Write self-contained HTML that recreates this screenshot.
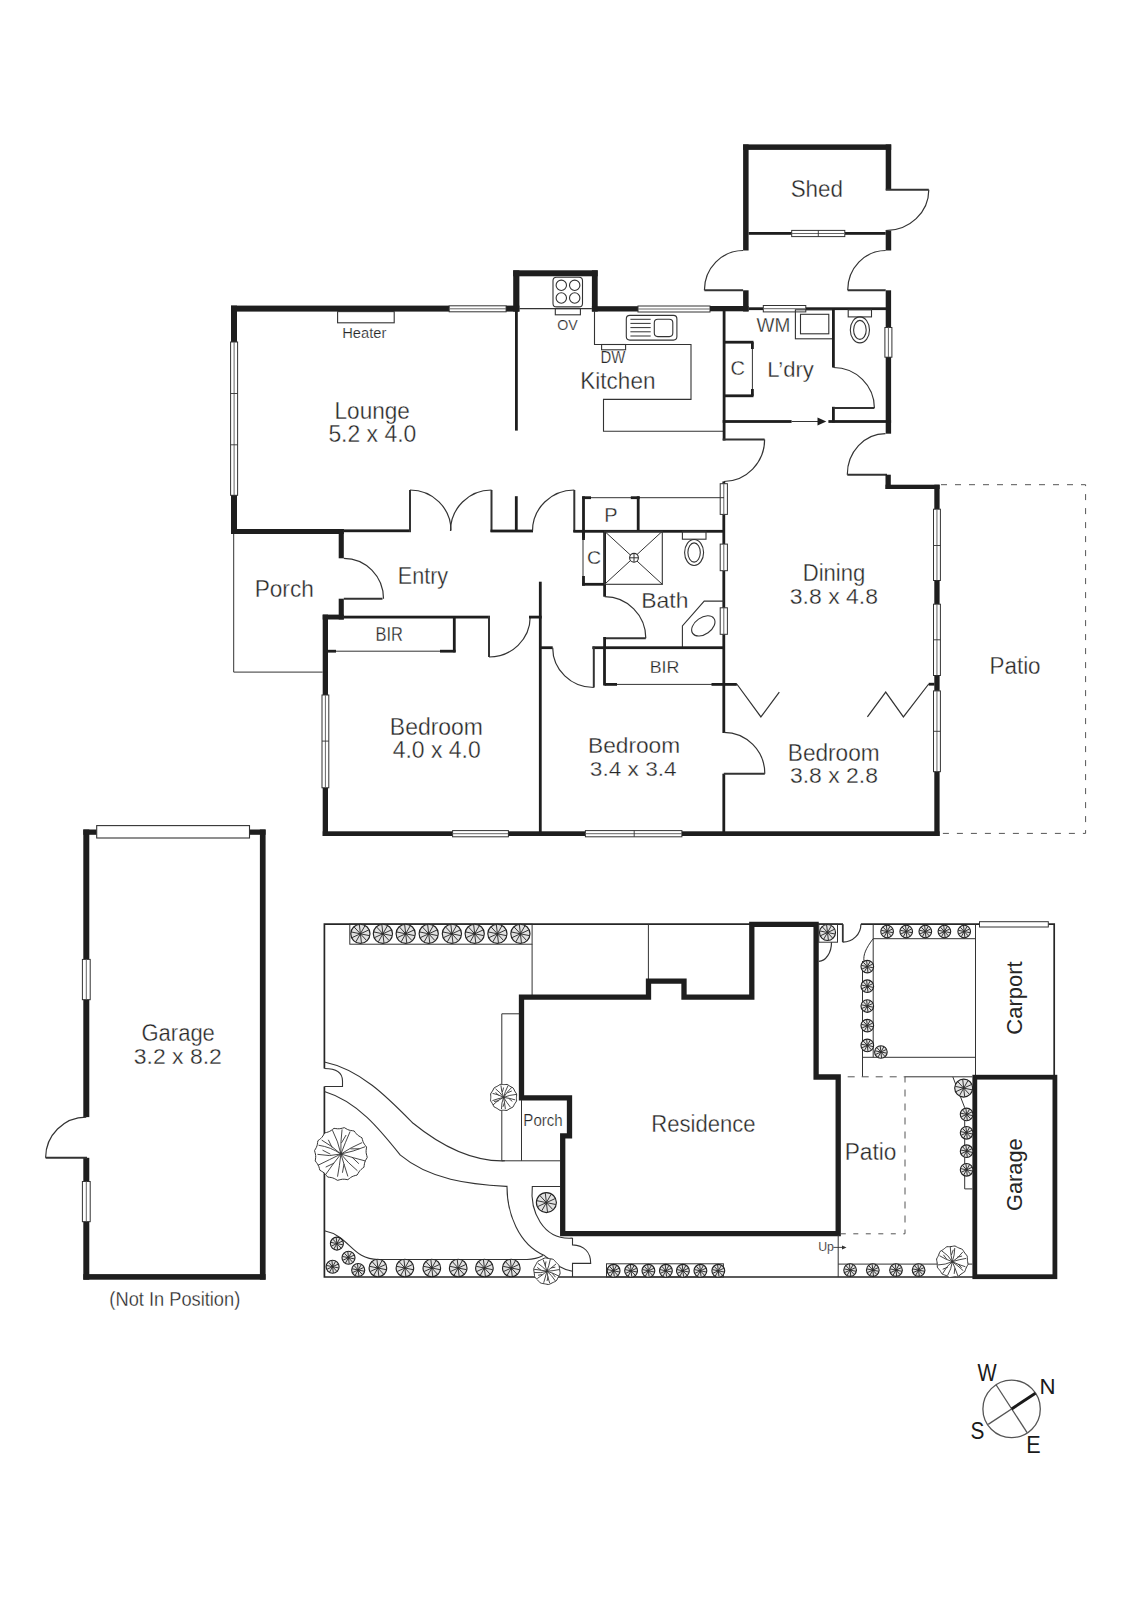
<!DOCTYPE html>
<html><head><meta charset="utf-8"><title>Floor plan</title>
<style>
html,body{margin:0;padding:0;background:#fff;}
svg{display:block;}
text{font-family:"Liberation Sans",sans-serif;}
</style></head><body>
<svg width="1131" height="1600" viewBox="0 0 1131 1600">
<rect width="1131" height="1600" fill="#fff"/>
<rect x="743.10" y="144.40" width="5.50" height="106.10" fill="#1e1e1e"/>
<rect x="743.10" y="144.40" width="148.10" height="5.50" fill="#1e1e1e"/>
<rect x="885.70" y="144.40" width="5.50" height="45.30" fill="#1e1e1e"/>
<rect x="885.70" y="230.60" width="5.50" height="19.90" fill="#1e1e1e"/>
<rect x="748.60" y="232.00" width="137.10" height="2.80" fill="#1e1e1e"/>
<rect x="791.70" y="230.40" width="53.10" height="6.20" fill="#fff" stroke="#333333" stroke-width="1"/>
<line x1="791.70" y1="233.50" x2="844.80" y2="233.50" stroke="#666" stroke-width="1.0" stroke-linecap="butt"/>
<line x1="818.30" y1="230.40" x2="818.30" y2="236.60" stroke="#333333" stroke-width="0.9" stroke-linecap="butt"/>
<line x1="885.70" y1="189.70" x2="928.80" y2="189.70" stroke="#333333" stroke-width="2.0" stroke-linecap="butt"/>
<path d="M928.80,189.70 A43.10,40.90 0 0 1 885.70,230.60" stroke="#333333" stroke-width="1.2" fill="none" />
<line x1="847.70" y1="290.30" x2="885.70" y2="290.30" stroke="#333333" stroke-width="2.0" stroke-linecap="butt"/>
<path d="M885.70,250.50 A38.00,39.80 0 0 0 847.70,290.30" stroke="#333333" stroke-width="1.2" fill="none" />
<line x1="704.40" y1="290.30" x2="743.10" y2="290.30" stroke="#333333" stroke-width="2.0" stroke-linecap="butt"/>
<path d="M743.10,250.50 A38.70,39.80 0 0 0 704.40,290.30" stroke="#333333" stroke-width="1.2" fill="none" />
<rect x="743.10" y="290.30" width="5.50" height="21.20" fill="#1e1e1e"/>
<rect x="885.70" y="290.30" width="5.40" height="37.20" fill="#1e1e1e"/>
<rect x="884.90" y="327.50" width="7.00" height="29.70" fill="#fff" stroke="#333333" stroke-width="1"/>
<line x1="888.40" y1="327.50" x2="888.40" y2="357.20" stroke="#666" stroke-width="1.0" stroke-linecap="butt"/>
<rect x="885.70" y="357.20" width="5.40" height="76.50" fill="#1e1e1e"/>
<rect x="231.00" y="305.60" width="218.20" height="6.00" fill="#1e1e1e"/>
<rect x="449.20" y="305.80" width="56.90" height="6.00" fill="#fff" stroke="#333333" stroke-width="1"/>
<line x1="449.20" y1="308.80" x2="506.10" y2="308.80" stroke="#666" stroke-width="1.0" stroke-linecap="butt"/>
<rect x="506.10" y="305.60" width="13.30" height="6.00" fill="#1e1e1e"/>
<rect x="513.20" y="270.30" width="6.20" height="41.30" fill="#1e1e1e"/>
<rect x="513.20" y="270.30" width="84.50" height="6.00" fill="#1e1e1e"/>
<rect x="591.90" y="270.30" width="5.80" height="41.30" fill="#1e1e1e"/>
<rect x="591.90" y="306.20" width="46.10" height="5.30" fill="#1e1e1e"/>
<rect x="638.00" y="306.00" width="72.00" height="6.00" fill="#fff" stroke="#333333" stroke-width="1"/>
<line x1="638.00" y1="309.00" x2="710.00" y2="309.00" stroke="#666" stroke-width="1.0" stroke-linecap="butt"/>
<rect x="710.00" y="306.00" width="38.60" height="5.30" fill="#1e1e1e"/>
<rect x="748.60" y="307.30" width="14.70" height="2.80" fill="#1e1e1e"/>
<rect x="763.30" y="305.50" width="42.50" height="6.40" fill="#fff" stroke="#333333" stroke-width="1"/>
<line x1="763.30" y1="308.70" x2="805.80" y2="308.70" stroke="#666" stroke-width="1.0" stroke-linecap="butt"/>
<rect x="805.80" y="307.30" width="82.20" height="2.80" fill="#1e1e1e"/>
<rect x="231.00" y="305.60" width="6.00" height="36.40" fill="#1e1e1e"/>
<rect x="230.60" y="342.00" width="7.00" height="153.30" fill="#fff" stroke="#333333" stroke-width="1"/>
<line x1="234.10" y1="342.00" x2="234.10" y2="495.30" stroke="#666" stroke-width="1.0" stroke-linecap="butt"/>
<line x1="230.60" y1="393.50" x2="237.60" y2="393.50" stroke="#333333" stroke-width="0.9" stroke-linecap="butt"/>
<line x1="230.60" y1="444.80" x2="237.60" y2="444.80" stroke="#333333" stroke-width="0.9" stroke-linecap="butt"/>
<rect x="231.00" y="495.30" width="6.00" height="38.70" fill="#1e1e1e"/>
<rect x="231.00" y="529.00" width="112.80" height="5.00" fill="#1e1e1e"/>
<rect x="338.70" y="529.00" width="5.10" height="29.30" fill="#1e1e1e"/>
<rect x="338.70" y="598.70" width="5.10" height="20.80" fill="#1e1e1e"/>
<rect x="322.70" y="614.60" width="21.10" height="4.90" fill="#1e1e1e"/>
<rect x="337.6" y="311.6" width="56.6" height="11.2" fill="none" stroke="#333333" stroke-width="1.1"/>
<text transform="translate(342.19,337.80) scale(1.0195,1)" font-size="14.46" fill="#262626" stroke="#fff" stroke-width="0.210">Heater</text>
<rect x="343.80" y="529.40" width="67.20" height="2.80" fill="#1e1e1e"/>
<line x1="410.00" y1="490.00" x2="410.00" y2="532.00" stroke="#333333" stroke-width="2.0" stroke-linecap="butt"/>
<path d="M410.00,490.00 A41.00,40.60 0 0 1 451.00,530.60" stroke="#333333" stroke-width="1.2" fill="none" />
<path d="M491.50,490.00 A41.00,41.00 0 0 0 450.50,531.00" stroke="#333333" stroke-width="1.2" fill="none" />
<line x1="491.50" y1="490.00" x2="491.50" y2="532.00" stroke="#333333" stroke-width="2.0" stroke-linecap="butt"/>
<rect x="490.50" y="529.60" width="42.50" height="2.80" fill="#1e1e1e"/>
<rect x="514.90" y="496.20" width="2.80" height="34.80" fill="#1e1e1e"/>
<path d="M574.30,490.00 A41.80,41.00 0 0 0 532.50,531.00" stroke="#333333" stroke-width="1.2" fill="none" />
<line x1="574.30" y1="490.00" x2="574.30" y2="532.00" stroke="#333333" stroke-width="2.0" stroke-linecap="butt"/>
<rect x="573.30" y="529.90" width="151.20" height="2.80" fill="#1e1e1e"/>
<rect x="515.00" y="311.00" width="2.80" height="119.60" fill="#1e1e1e"/>
<rect x="553" y="277.3" width="29.5" height="29.6" rx="3.5" fill="none" stroke="#333333" stroke-width="1.1"/>
<circle cx="561.3" cy="285.3" r="5.2" fill="none" stroke="#333333" stroke-width="1.1"/>
<circle cx="574.7" cy="285.3" r="5.2" fill="none" stroke="#333333" stroke-width="1.1"/>
<circle cx="561.3" cy="298" r="5.2" fill="none" stroke="#333333" stroke-width="1.1"/>
<circle cx="574.7" cy="298" r="5.2" fill="none" stroke="#333333" stroke-width="1.1"/>
<line x1="519.40" y1="308.60" x2="591.90" y2="308.60" stroke="#333333" stroke-width="1.1" stroke-linecap="butt"/>
<rect x="555.3" y="308.6" width="25.1" height="6.2" fill="none" stroke="#333333" stroke-width="1.1"/>
<text transform="translate(557.23,330.40) scale(0.9269,1)" font-size="15.33" fill="#262626" stroke="#fff" stroke-width="0.223">OV</text>
<path d="M594.5,311 V344.5 H691 V399.4 H603.5 V431.2 H724" stroke="#333333" stroke-width="1.1" fill="none" />
<rect x="626.3" y="315.4" width="50.6" height="24.7" rx="3.5" fill="none" stroke="#333333" stroke-width="1.1"/>
<rect x="654.3" y="319.3" width="18.5" height="17.3" rx="3.5" fill="none" stroke="#333333" stroke-width="1.1"/>
<line x1="630.40" y1="319.30" x2="650.70" y2="319.30" stroke="#333333" stroke-width="1.0" stroke-linecap="butt"/>
<line x1="630.40" y1="323.40" x2="650.70" y2="323.40" stroke="#333333" stroke-width="1.0" stroke-linecap="butt"/>
<line x1="630.40" y1="327.60" x2="650.70" y2="327.60" stroke="#333333" stroke-width="1.0" stroke-linecap="butt"/>
<line x1="630.40" y1="331.80" x2="650.70" y2="331.80" stroke="#333333" stroke-width="1.0" stroke-linecap="butt"/>
<line x1="630.40" y1="336.00" x2="650.70" y2="336.00" stroke="#333333" stroke-width="1.0" stroke-linecap="butt"/>
<rect x="601.6" y="344.5" width="24" height="5.3" fill="none" stroke="#333333" stroke-width="1.1"/>
<text transform="translate(600.48,363.40) scale(0.9213,1)" font-size="16.21" fill="#262626" stroke="#fff" stroke-width="0.236">DW</text>
<text transform="translate(580.35,388.60) scale(0.9167,1)" font-size="24.56" fill="#262626" stroke="#fff" stroke-width="0.357">Kitchen</text>
<rect x="722.70" y="311.00" width="2.80" height="129.50" fill="#1e1e1e"/>
<rect x="724.00" y="340.80" width="29.50" height="2.80" fill="#1e1e1e"/>
<rect x="724.00" y="394.40" width="29.50" height="2.80" fill="#1e1e1e"/>
<line x1="752.40" y1="342.20" x2="752.40" y2="395.80" stroke="#333333" stroke-width="1.0" stroke-linecap="butt"/>
<rect x="751.00" y="342.20" width="2.80" height="6.80" fill="#1e1e1e"/>
<rect x="751.00" y="389.00" width="2.80" height="6.80" fill="#1e1e1e"/>
<text transform="translate(730.58,375.10) scale(0.9855,1)" font-size="20.35" fill="#262626" stroke="#fff" stroke-width="0.296">C</text>
<text transform="translate(756.62,331.70) scale(0.9823,1)" font-size="19.33" fill="#262626" stroke="#fff" stroke-width="0.281">WM</text>
<text transform="translate(767.19,376.60) scale(0.9614,1)" font-size="22.97" fill="#262626" stroke="#fff" stroke-width="0.334">L’dry</text>
<rect x="795.4" y="309.8" width="37.2" height="29" fill="none" stroke="#333333" stroke-width="1.1"/>
<rect x="800.5" y="314.3" width="28.3" height="19.5" fill="none" stroke="#333333" stroke-width="1.1"/>
<rect x="832.00" y="308.00" width="2.80" height="59.50" fill="#1e1e1e"/>
<rect x="832.00" y="406.80" width="2.80" height="15.70" fill="#1e1e1e"/>
<line x1="833.40" y1="408.10" x2="874.40" y2="408.10" stroke="#333333" stroke-width="2.0" stroke-linecap="butt"/>
<path d="M833.40,367.50 A41.00,40.60 0 0 1 874.40,408.10" stroke="#333333" stroke-width="1.2" fill="none" />
<rect x="848.2" y="309.8" width="23.3" height="7.1" fill="none" stroke="#333333" stroke-width="1.1"/>
<ellipse cx="859.9" cy="329.9" rx="9.6" ry="13" fill="none" stroke="#333333" stroke-width="1.1"/>
<ellipse cx="859.9" cy="329.9" rx="6.3" ry="9.5" fill="none" stroke="#333333" stroke-width="1.1"/>
<rect x="722.70" y="420.10" width="68.90" height="2.80" fill="#1e1e1e"/>
<rect x="828.40" y="420.10" width="62.70" height="2.80" fill="#1e1e1e"/>
<line x1="791.60" y1="421.50" x2="819.00" y2="421.50" stroke="#333333" stroke-width="1.0" stroke-linecap="butt"/>
<polygon points="817.5,417.6 826.3,421.5 817.5,425.4" fill="#1e1e1e"/>
<line x1="722.70" y1="439.50" x2="764.60" y2="439.50" stroke="#333333" stroke-width="2.0" stroke-linecap="butt"/>
<path d="M764.60,439.50 A40.80,42.00 0 0 1 723.80,481.50" stroke="#333333" stroke-width="1.2" fill="none" />
<path d="M885.50,433.70 A38.20,41.00 0 0 0 847.30,474.70" stroke="#333333" stroke-width="1.2" fill="none" />
<line x1="847.30" y1="474.70" x2="887.00" y2="474.70" stroke="#333333" stroke-width="2.0" stroke-linecap="butt"/>
<rect x="885.50" y="474.70" width="5.30" height="14.30" fill="#1e1e1e"/>
<rect x="885.50" y="484.70" width="54.10" height="4.30" fill="#1e1e1e"/>
<rect x="934.30" y="484.70" width="5.30" height="24.50" fill="#1e1e1e"/>
<rect x="933.50" y="509.20" width="6.90" height="71.30" fill="#fff" stroke="#333333" stroke-width="1"/>
<line x1="936.95" y1="509.20" x2="936.95" y2="580.50" stroke="#666" stroke-width="1.0" stroke-linecap="butt"/>
<line x1="933.50" y1="545.50" x2="940.40" y2="545.50" stroke="#333333" stroke-width="0.9" stroke-linecap="butt"/>
<rect x="934.30" y="580.50" width="5.30" height="23.70" fill="#1e1e1e"/>
<rect x="933.50" y="604.20" width="6.90" height="71.30" fill="#fff" stroke="#333333" stroke-width="1"/>
<line x1="936.95" y1="604.20" x2="936.95" y2="675.50" stroke="#666" stroke-width="1.0" stroke-linecap="butt"/>
<line x1="933.50" y1="639.80" x2="940.40" y2="639.80" stroke="#333333" stroke-width="0.9" stroke-linecap="butt"/>
<rect x="934.30" y="675.50" width="5.30" height="15.40" fill="#1e1e1e"/>
<rect x="933.50" y="690.90" width="6.90" height="80.80" fill="#fff" stroke="#333333" stroke-width="1"/>
<line x1="936.95" y1="690.90" x2="936.95" y2="771.70" stroke="#666" stroke-width="1.0" stroke-linecap="butt"/>
<line x1="933.50" y1="731.30" x2="940.40" y2="731.30" stroke="#333333" stroke-width="0.9" stroke-linecap="butt"/>
<rect x="934.30" y="771.70" width="5.30" height="64.30" fill="#1e1e1e"/>
<path d="M941,484.7 H1085.6 V833.4 H941" stroke="#555" stroke-width="1.0" fill="none" stroke-dasharray="6,8"/>
<text transform="translate(989.46,673.80) scale(0.9196,1)" font-size="24.42" fill="#262626" stroke="#fff" stroke-width="0.355">Patio</text>
<rect x="722.40" y="481.50" width="2.80" height="251.50" fill="#1e1e1e"/>
<rect x="720.20" y="483.70" width="7.20" height="30.70" fill="#fff" stroke="#333333" stroke-width="1"/>
<line x1="723.80" y1="483.70" x2="723.80" y2="514.40" stroke="#666" stroke-width="1.0" stroke-linecap="butt"/>
<rect x="720.20" y="544.10" width="7.20" height="26.60" fill="#fff" stroke="#333333" stroke-width="1"/>
<line x1="723.80" y1="544.10" x2="723.80" y2="570.70" stroke="#666" stroke-width="1.0" stroke-linecap="butt"/>
<rect x="720.20" y="607.80" width="7.20" height="26.50" fill="#fff" stroke="#333333" stroke-width="1"/>
<line x1="723.80" y1="607.80" x2="723.80" y2="634.30" stroke="#666" stroke-width="1.0" stroke-linecap="butt"/>
<rect x="722.40" y="773.70" width="2.80" height="59.30" fill="#1e1e1e"/>
<line x1="723.80" y1="773.70" x2="764.80" y2="773.70" stroke="#333333" stroke-width="2.0" stroke-linecap="butt"/>
<path d="M723.80,732.30 A41.00,41.40 0 0 1 764.80,773.70" stroke="#333333" stroke-width="1.2" fill="none" />
<text transform="translate(802.69,581.30) scale(0.9560,1)" font-size="23.11" fill="#262626" stroke="#fff" stroke-width="0.336">Dining</text>
<text transform="translate(789.82,603.60) scale(1.0203,1)" font-size="22.53" fill="#262626" stroke="#fff" stroke-width="0.328">3.8 x 4.8</text>
<path d="M736.8,684 L760.9,716.9 L779.3,692.1" stroke="#333333" stroke-width="1.2" fill="none" />
<path d="M928.7,684 L903.4,716.9 L885.7,692.1 L867.4,716.9" stroke="#333333" stroke-width="1.2" fill="none" />
<rect x="928.70" y="682.80" width="5.80" height="2.80" fill="#1e1e1e"/>
<rect x="322.70" y="831.30" width="129.90" height="4.70" fill="#1e1e1e"/>
<rect x="452.60" y="830.60" width="55.80" height="6.20" fill="#fff" stroke="#333333" stroke-width="1"/>
<line x1="452.60" y1="833.70" x2="508.40" y2="833.70" stroke="#666" stroke-width="1.0" stroke-linecap="butt"/>
<rect x="508.40" y="831.30" width="77.00" height="4.70" fill="#1e1e1e"/>
<rect x="585.40" y="830.60" width="96.50" height="6.20" fill="#fff" stroke="#333333" stroke-width="1"/>
<line x1="585.40" y1="833.70" x2="681.90" y2="833.70" stroke="#666" stroke-width="1.0" stroke-linecap="butt"/>
<line x1="634.20" y1="830.60" x2="634.20" y2="836.80" stroke="#333333" stroke-width="0.9" stroke-linecap="butt"/>
<rect x="681.90" y="831.30" width="257.70" height="4.70" fill="#1e1e1e"/>
<rect x="322.70" y="614.60" width="5.30" height="80.40" fill="#1e1e1e"/>
<rect x="322.00" y="695.00" width="6.80" height="92.80" fill="#fff" stroke="#333333" stroke-width="1"/>
<line x1="325.40" y1="695.00" x2="325.40" y2="787.80" stroke="#666" stroke-width="1.0" stroke-linecap="butt"/>
<line x1="322.00" y1="741.10" x2="328.80" y2="741.10" stroke="#333333" stroke-width="0.9" stroke-linecap="butt"/>
<rect x="322.70" y="787.80" width="5.30" height="48.20" fill="#1e1e1e"/>
<path d="M233.7,534 V672.1 H322.7" stroke="#333333" stroke-width="1.0" fill="none" />
<text transform="translate(254.64,597.40) scale(0.9455,1)" font-size="23.98" fill="#262626" stroke="#fff" stroke-width="0.349">Porch</text>
<text transform="translate(397.73,583.70) scale(0.9007,1)" font-size="23.98" fill="#262626" stroke="#fff" stroke-width="0.349">Entry</text>
<line x1="343.80" y1="598.70" x2="382.50" y2="598.70" stroke="#333333" stroke-width="2.0" stroke-linecap="butt"/>
<path d="M343.80,558.30 A39.70,40.40 0 0 1 383.50,598.70" stroke="#333333" stroke-width="1.2" fill="none" />
<rect x="343.80" y="615.70" width="146.20" height="2.80" fill="#1e1e1e"/>
<rect x="452.90" y="617.00" width="2.80" height="35.30" fill="#1e1e1e"/>
<line x1="328.00" y1="651.20" x2="454.30" y2="651.20" stroke="#333333" stroke-width="1.0" stroke-linecap="butt"/>
<rect x="328.00" y="649.80" width="8.00" height="2.80" fill="#1e1e1e"/>
<rect x="440.00" y="649.80" width="15.60" height="2.80" fill="#1e1e1e"/>
<text transform="translate(375.45,641.20) scale(0.8171,1)" font-size="20.20" fill="#262626" stroke="#fff" stroke-width="0.294">BIR</text>
<line x1="489.00" y1="616.00" x2="489.00" y2="657.00" stroke="#333333" stroke-width="2.0" stroke-linecap="butt"/>
<path d="M530.20,617.10 A41.20,40.00 0 0 1 489.00,657.00" stroke="#333333" stroke-width="1.2" fill="none" />
<rect x="529.00" y="615.70" width="12.70" height="2.80" fill="#1e1e1e"/>
<rect x="538.90" y="581.70" width="2.80" height="251.30" fill="#1e1e1e"/>
<text transform="translate(389.82,734.70) scale(0.9577,1)" font-size="23.98" fill="#262626" stroke="#fff" stroke-width="0.349">Bedroom</text>
<text transform="translate(392.67,757.50) scale(0.9686,1)" font-size="23.69" fill="#262626" stroke="#fff" stroke-width="0.345">4.0 x 4.0</text>
<line x1="582.20" y1="497.70" x2="724.00" y2="497.70" stroke="#333333" stroke-width="1.0" stroke-linecap="butt"/>
<rect x="582.20" y="496.30" width="8.80" height="2.80" fill="#1e1e1e"/>
<rect x="630.80" y="496.30" width="8.80" height="2.80" fill="#1e1e1e"/>
<rect x="582.10" y="496.30" width="2.80" height="42.10" fill="#1e1e1e"/>
<rect x="636.80" y="496.30" width="2.80" height="35.00" fill="#1e1e1e"/>
<text transform="translate(604.37,521.60) scale(0.9858,1)" font-size="20.20" fill="#262626" stroke="#fff" stroke-width="0.294">P</text>
<line x1="583.00" y1="531.30" x2="583.00" y2="584.30" stroke="#333333" stroke-width="1.0" stroke-linecap="butt"/>
<rect x="582.10" y="531.30" width="2.80" height="8.70" fill="#1e1e1e"/>
<rect x="582.10" y="576.00" width="2.80" height="9.70" fill="#1e1e1e"/>
<rect x="582.10" y="582.90" width="23.90" height="2.80" fill="#1e1e1e"/>
<rect x="603.20" y="531.30" width="2.80" height="65.40" fill="#1e1e1e"/>
<text transform="translate(587.01,564.00) scale(1.0362,1)" font-size="18.90" fill="#262626" stroke="#fff" stroke-width="0.275">C</text>
<rect x="604.6" y="531.3" width="57.7" height="53" fill="none" stroke="#333333" stroke-width="1.1"/>
<line x1="604.60" y1="531.30" x2="662.30" y2="584.30" stroke="#333333" stroke-width="1.0" stroke-linecap="butt"/>
<line x1="662.30" y1="531.30" x2="604.60" y2="584.30" stroke="#333333" stroke-width="1.0" stroke-linecap="butt"/>
<circle cx="634" cy="557.8" r="4.4" fill="#fff" stroke="#333333" stroke-width="1.1"/>
<line x1="629.60" y1="557.80" x2="638.40" y2="557.80" stroke="#333333" stroke-width="1.0" stroke-linecap="butt"/>
<line x1="634.00" y1="553.40" x2="634.00" y2="562.20" stroke="#333333" stroke-width="1.0" stroke-linecap="butt"/>
<rect x="682.4" y="531.3" width="23.6" height="7.9" fill="none" stroke="#333333" stroke-width="1.1"/>
<ellipse cx="694.1" cy="552.5" rx="9.5" ry="13" fill="none" stroke="#333333" stroke-width="1.1"/>
<ellipse cx="694.1" cy="552.5" rx="6.2" ry="9.6" fill="none" stroke="#333333" stroke-width="1.1"/>
<path d="M724,601.1 H704.2 L682.4,625.9 V647.1" stroke="#333333" stroke-width="1.1" fill="none" />
<ellipse cx="703.3" cy="625.9" rx="13" ry="8.3" transform="rotate(-35 703.3 625.9)" fill="none" stroke="#333333" stroke-width="1.1"/>
<text transform="translate(641.32,608.20) scale(1.0659,1)" font-size="21.51" fill="#262626" stroke="#fff" stroke-width="0.313">Bath</text>
<path d="M604.60,596.70 A41.20,41.60 0 0 1 645.80,638.30" stroke="#333333" stroke-width="1.2" fill="none" />
<line x1="603.60" y1="638.30" x2="645.80" y2="638.30" stroke="#333333" stroke-width="2.0" stroke-linecap="butt"/>
<rect x="603.20" y="637.00" width="2.80" height="11.50" fill="#1e1e1e"/>
<rect x="592.30" y="646.30" width="132.70" height="2.80" fill="#1e1e1e"/>
<rect x="603.10" y="647.00" width="2.80" height="38.50" fill="#1e1e1e"/>
<line x1="604.50" y1="684.40" x2="736.80" y2="684.40" stroke="#333333" stroke-width="1.0" stroke-linecap="butt"/>
<rect x="604.50" y="683.00" width="12.50" height="2.80" fill="#1e1e1e"/>
<rect x="711.50" y="683.00" width="25.30" height="2.80" fill="#1e1e1e"/>
<text transform="translate(649.64,673.10) scale(1.0253,1)" font-size="17.37" fill="#262626" stroke="#fff" stroke-width="0.253">BIR</text>
<rect x="540.30" y="646.30" width="12.40" height="2.80" fill="#1e1e1e"/>
<path d="M552.70,647.70 A41.10,39.80 0 0 0 593.80,687.50" stroke="#333333" stroke-width="1.2" fill="none" />
<line x1="593.80" y1="646.50" x2="593.80" y2="687.50" stroke="#333333" stroke-width="2.0" stroke-linecap="butt"/>
<text transform="translate(588.04,752.50) scale(1.0281,1)" font-size="22.09" fill="#262626" stroke="#fff" stroke-width="0.321">Bedroom</text>
<text transform="translate(589.84,775.60) scale(1.0814,1)" font-size="20.93" fill="#262626" stroke="#fff" stroke-width="0.304">3.4 x 3.4</text>
<text transform="translate(787.84,760.60) scale(0.9613,1)" font-size="23.55" fill="#262626" stroke="#fff" stroke-width="0.342">Bedroom</text>
<text transform="translate(789.93,782.90) scale(1.0126,1)" font-size="22.67" fill="#262626" stroke="#fff" stroke-width="0.330">3.8 x 2.8</text>
<text transform="translate(334.55,419.20) scale(0.9591,1)" font-size="23.55" fill="#262626" stroke="#fff" stroke-width="0.342">Lounge</text>
<text transform="translate(328.38,441.80) scale(0.9733,1)" font-size="23.55" fill="#262626" stroke="#fff" stroke-width="0.342">5.2 x 4.0</text>
<text transform="translate(790.68,196.80) scale(0.9274,1)" font-size="24.13" fill="#262626" stroke="#fff" stroke-width="0.351">Shed</text>
<rect x="83.30" y="829.50" width="6.00" height="129.90" fill="#1e1e1e"/>
<rect x="82.40" y="959.40" width="7.80" height="40.30" fill="#fff" stroke="#333333" stroke-width="1"/>
<line x1="86.30" y1="959.40" x2="86.30" y2="999.70" stroke="#666" stroke-width="1.0" stroke-linecap="butt"/>
<rect x="83.30" y="999.70" width="6.00" height="117.40" fill="#1e1e1e"/>
<rect x="83.30" y="1157.80" width="6.00" height="23.70" fill="#1e1e1e"/>
<rect x="82.40" y="1181.50" width="7.80" height="40.20" fill="#fff" stroke="#333333" stroke-width="1"/>
<line x1="86.30" y1="1181.50" x2="86.30" y2="1221.70" stroke="#666" stroke-width="1.0" stroke-linecap="butt"/>
<rect x="83.30" y="1221.70" width="6.00" height="58.00" fill="#1e1e1e"/>
<rect x="83.30" y="829.50" width="13.40" height="5.30" fill="#1e1e1e"/>
<rect x="249.50" y="829.50" width="16.10" height="5.30" fill="#1e1e1e"/>
<rect x="96.7" y="825.6" width="152.8" height="12.4" fill="#fff" stroke="#333333" stroke-width="1.1"/>
<rect x="259.90" y="829.50" width="5.70" height="450.20" fill="#1e1e1e"/>
<rect x="83.30" y="1274.10" width="182.30" height="5.60" fill="#1e1e1e"/>
<line x1="45.60" y1="1157.80" x2="87.00" y2="1157.80" stroke="#333333" stroke-width="2.0" stroke-linecap="butt"/>
<path d="M86.30,1117.10 A40.70,40.70 0 0 0 45.60,1157.80" stroke="#333333" stroke-width="1.2" fill="none" />
<text transform="translate(141.49,1041.00) scale(0.9119,1)" font-size="24.13" fill="#262626" stroke="#fff" stroke-width="0.351">Garage</text>
<text transform="translate(133.72,1064.00) scale(1.0144,1)" font-size="22.67" fill="#262626" stroke="#fff" stroke-width="0.330">3.2 x 8.2</text>
<text transform="translate(109.37,1305.60) scale(0.8728,1)" font-size="20.93" fill="#262626" stroke="#fff" stroke-width="0.304">(Not In Position)</text>
<path d="M843,924.2 H324.4 V1068.5" stroke="#262626" stroke-width="1.7" fill="none" />
<path d="M324.4,1086.5 V1277 H974" stroke="#262626" stroke-width="1.7" fill="none" />
<path d="M860.9,924.2 H979.5" stroke="#262626" stroke-width="1.7" fill="none" />
<path d="M1048.3,924.2 H1054.2 V1075" stroke="#262626" stroke-width="1.7" fill="none" />
<rect x="979.5" y="921.7" width="68.8" height="5.3" fill="#fff" stroke="#333333" stroke-width="1"/>
<rect x="349.8" y="924.2" width="182.3" height="20" fill="none" stroke="#333333" stroke-width="1"/>
<circle cx="360.40" cy="933.80" r="9.60" fill="#e2e2e2" stroke="#222" stroke-width="1.15"/>
<path d="M360.40,933.80 L369.34,935.61 M360.40,933.80 L366.57,940.52 M360.40,933.80 L361.44,942.86 M360.40,933.80 L355.91,941.74 M360.40,933.80 L352.10,937.59 M360.40,933.80 L351.46,931.99 M360.40,933.80 L354.23,927.08 M360.40,933.80 L359.36,924.74 M360.40,933.80 L364.89,925.86 M360.40,933.80 L368.70,930.01 " stroke="#2a2a2a" stroke-width="0.95" fill="none" />
<circle cx="382.90" cy="933.80" r="9.60" fill="#e2e2e2" stroke="#222" stroke-width="1.15"/>
<path d="M382.90,933.80 L391.84,935.61 M382.90,933.80 L389.07,940.52 M382.90,933.80 L383.94,942.86 M382.90,933.80 L378.41,941.74 M382.90,933.80 L374.60,937.59 M382.90,933.80 L373.96,931.99 M382.90,933.80 L376.73,927.08 M382.90,933.80 L381.86,924.74 M382.90,933.80 L387.39,925.86 M382.90,933.80 L391.20,930.01 " stroke="#2a2a2a" stroke-width="0.95" fill="none" />
<circle cx="405.70" cy="933.80" r="9.60" fill="#e2e2e2" stroke="#222" stroke-width="1.15"/>
<path d="M405.70,933.80 L414.64,935.61 M405.70,933.80 L411.87,940.52 M405.70,933.80 L406.74,942.86 M405.70,933.80 L401.21,941.74 M405.70,933.80 L397.40,937.59 M405.70,933.80 L396.76,931.99 M405.70,933.80 L399.53,927.08 M405.70,933.80 L404.66,924.74 M405.70,933.80 L410.19,925.86 M405.70,933.80 L414.00,930.01 " stroke="#2a2a2a" stroke-width="0.95" fill="none" />
<circle cx="428.70" cy="933.80" r="9.60" fill="#e2e2e2" stroke="#222" stroke-width="1.15"/>
<path d="M428.70,933.80 L437.64,935.61 M428.70,933.80 L434.87,940.52 M428.70,933.80 L429.74,942.86 M428.70,933.80 L424.21,941.74 M428.70,933.80 L420.40,937.59 M428.70,933.80 L419.76,931.99 M428.70,933.80 L422.53,927.08 M428.70,933.80 L427.66,924.74 M428.70,933.80 L433.19,925.86 M428.70,933.80 L437.00,930.01 " stroke="#2a2a2a" stroke-width="0.95" fill="none" />
<circle cx="451.90" cy="933.80" r="9.60" fill="#e2e2e2" stroke="#222" stroke-width="1.15"/>
<path d="M451.90,933.80 L460.84,935.61 M451.90,933.80 L458.07,940.52 M451.90,933.80 L452.94,942.86 M451.90,933.80 L447.41,941.74 M451.90,933.80 L443.60,937.59 M451.90,933.80 L442.96,931.99 M451.90,933.80 L445.73,927.08 M451.90,933.80 L450.86,924.74 M451.90,933.80 L456.39,925.86 M451.90,933.80 L460.20,930.01 " stroke="#2a2a2a" stroke-width="0.95" fill="none" />
<circle cx="474.70" cy="933.80" r="9.60" fill="#e2e2e2" stroke="#222" stroke-width="1.15"/>
<path d="M474.70,933.80 L483.64,935.61 M474.70,933.80 L480.87,940.52 M474.70,933.80 L475.74,942.86 M474.70,933.80 L470.21,941.74 M474.70,933.80 L466.40,937.59 M474.70,933.80 L465.76,931.99 M474.70,933.80 L468.53,927.08 M474.70,933.80 L473.66,924.74 M474.70,933.80 L479.19,925.86 M474.70,933.80 L483.00,930.01 " stroke="#2a2a2a" stroke-width="0.95" fill="none" />
<circle cx="497.40" cy="933.80" r="9.60" fill="#e2e2e2" stroke="#222" stroke-width="1.15"/>
<path d="M497.40,933.80 L506.34,935.61 M497.40,933.80 L503.57,940.52 M497.40,933.80 L498.44,942.86 M497.40,933.80 L492.91,941.74 M497.40,933.80 L489.10,937.59 M497.40,933.80 L488.46,931.99 M497.40,933.80 L491.23,927.08 M497.40,933.80 L496.36,924.74 M497.40,933.80 L501.89,925.86 M497.40,933.80 L505.70,930.01 " stroke="#2a2a2a" stroke-width="0.95" fill="none" />
<circle cx="520.40" cy="933.80" r="9.60" fill="#e2e2e2" stroke="#222" stroke-width="1.15"/>
<path d="M520.40,933.80 L529.34,935.61 M520.40,933.80 L526.57,940.52 M520.40,933.80 L521.44,942.86 M520.40,933.80 L515.91,941.74 M520.40,933.80 L512.10,937.59 M520.40,933.80 L511.46,931.99 M520.40,933.80 L514.23,927.08 M520.40,933.80 L519.36,924.74 M520.40,933.80 L524.89,925.86 M520.40,933.80 L528.70,930.01 " stroke="#2a2a2a" stroke-width="0.95" fill="none" />
<line x1="532.10" y1="944.20" x2="532.10" y2="996.00" stroke="#333333" stroke-width="1.0" stroke-linecap="butt"/>
<line x1="648.40" y1="924.20" x2="648.40" y2="980.00" stroke="#333333" stroke-width="1.0" stroke-linecap="butt"/>
<path d="M521.5,997.2 H648.5 V981.1 H684 V997.2 H751.8 V924.3 H816.1 V1077 H838.2 V1233.6 H562.7 V1135.8 H569.5 V1097.8 H521.5 Z" stroke="#1e1e1e" stroke-width="5.3" fill="none" stroke-linejoin="miter"/>
<text transform="translate(651.29,1131.50) scale(0.8933,1)" font-size="24.71" fill="#262626" stroke="#fff" stroke-width="0.359">Residence</text>
<path d="M519,1013.8 H501.8 V1160.8 H560" stroke="#333333" stroke-width="1.0" fill="none" />
<line x1="521.50" y1="1100.00" x2="521.50" y2="1160.80" stroke="#333333" stroke-width="1.0" stroke-linecap="butt"/>
<text transform="translate(523.36,1126.20) scale(0.9481,1)" font-size="15.92" fill="#262626" stroke="#fff" stroke-width="0.232">Porch</text>
<path d="M324.4,1062.0 C360.8,1069.6 387.8,1097.6 412.8,1123.0 C439.0,1144.3 469.8,1161.9 504.9,1160.8" stroke="#333333" stroke-width="1.1" fill="none" />
<path d="M324.4,1091.5 C357.5,1101.5 379.7,1129.3 400.4,1155.2 C429.6,1179.8 469.7,1184.3 506.2,1186.4 H507 C506.9,1212.9 518.4,1244.6 544.5,1255.6 C553,1262 561,1269.5 572.5,1271.2" stroke="#333333" stroke-width="1.1" fill="none" />
<path d="M560,1186.5 H532.3 C529.8,1210.6 542.6,1240.4 572.5,1238.1" stroke="#333333" stroke-width="1.1" fill="none" />
<path d="M324.4,1068.5 C336,1068.5 342.5,1073 342.5,1081 V1086.5 H324.4" stroke="#333333" stroke-width="1.1" fill="none" />
<path d="M572.5,1238 V1244.9 C584,1245.5 590.7,1252 590.7,1263.4 H572.5 V1277" stroke="#333333" stroke-width="1.1" fill="none" />
<path d="M324.4,1230.8 C350,1236 352,1259.5 378,1259.5 H527 Q536,1259.5 543,1255.6" stroke="#333333" stroke-width="1.1" fill="none" />
<circle cx="546.40" cy="1202.60" r="10.00" fill="#e2e2e2" stroke="#222" stroke-width="1.15"/>
<path d="M546.40,1202.60 L555.71,1204.49 M546.40,1202.60 L552.82,1209.60 M546.40,1202.60 L547.48,1212.04 M546.40,1202.60 L541.73,1210.87 M546.40,1202.60 L537.76,1206.55 M546.40,1202.60 L537.09,1200.71 M546.40,1202.60 L539.98,1195.60 M546.40,1202.60 L545.32,1193.16 M546.40,1202.60 L551.07,1194.33 M546.40,1202.60 L555.04,1198.65 " stroke="#2a2a2a" stroke-width="0.95" fill="none" />
<circle cx="377.90" cy="1268.00" r="8.80" fill="#e2e2e2" stroke="#222" stroke-width="1.15"/>
<path d="M377.90,1268.00 L386.09,1269.66 M377.90,1268.00 L383.55,1274.16 M377.90,1268.00 L378.85,1276.31 M377.90,1268.00 L373.79,1275.28 M377.90,1268.00 L370.30,1271.47 M377.90,1268.00 L369.71,1266.34 M377.90,1268.00 L372.25,1261.84 M377.90,1268.00 L376.95,1259.69 M377.90,1268.00 L382.01,1260.72 M377.90,1268.00 L385.50,1264.53 " stroke="#2a2a2a" stroke-width="0.95" fill="none" />
<circle cx="404.90" cy="1268.00" r="8.80" fill="#e2e2e2" stroke="#222" stroke-width="1.15"/>
<path d="M404.90,1268.00 L413.09,1269.66 M404.90,1268.00 L410.55,1274.16 M404.90,1268.00 L405.85,1276.31 M404.90,1268.00 L400.79,1275.28 M404.90,1268.00 L397.30,1271.47 M404.90,1268.00 L396.71,1266.34 M404.90,1268.00 L399.25,1261.84 M404.90,1268.00 L403.95,1259.69 M404.90,1268.00 L409.01,1260.72 M404.90,1268.00 L412.50,1264.53 " stroke="#2a2a2a" stroke-width="0.95" fill="none" />
<circle cx="431.80" cy="1268.00" r="8.80" fill="#e2e2e2" stroke="#222" stroke-width="1.15"/>
<path d="M431.80,1268.00 L439.99,1269.66 M431.80,1268.00 L437.45,1274.16 M431.80,1268.00 L432.75,1276.31 M431.80,1268.00 L427.69,1275.28 M431.80,1268.00 L424.20,1271.47 M431.80,1268.00 L423.61,1266.34 M431.80,1268.00 L426.15,1261.84 M431.80,1268.00 L430.85,1259.69 M431.80,1268.00 L435.91,1260.72 M431.80,1268.00 L439.40,1264.53 " stroke="#2a2a2a" stroke-width="0.95" fill="none" />
<circle cx="458.20" cy="1268.00" r="8.80" fill="#e2e2e2" stroke="#222" stroke-width="1.15"/>
<path d="M458.20,1268.00 L466.39,1269.66 M458.20,1268.00 L463.85,1274.16 M458.20,1268.00 L459.15,1276.31 M458.20,1268.00 L454.09,1275.28 M458.20,1268.00 L450.60,1271.47 M458.20,1268.00 L450.01,1266.34 M458.20,1268.00 L452.55,1261.84 M458.20,1268.00 L457.25,1259.69 M458.20,1268.00 L462.31,1260.72 M458.20,1268.00 L465.80,1264.53 " stroke="#2a2a2a" stroke-width="0.95" fill="none" />
<circle cx="484.40" cy="1268.00" r="8.80" fill="#e2e2e2" stroke="#222" stroke-width="1.15"/>
<path d="M484.40,1268.00 L492.59,1269.66 M484.40,1268.00 L490.05,1274.16 M484.40,1268.00 L485.35,1276.31 M484.40,1268.00 L480.29,1275.28 M484.40,1268.00 L476.80,1271.47 M484.40,1268.00 L476.21,1266.34 M484.40,1268.00 L478.75,1261.84 M484.40,1268.00 L483.45,1259.69 M484.40,1268.00 L488.51,1260.72 M484.40,1268.00 L492.00,1264.53 " stroke="#2a2a2a" stroke-width="0.95" fill="none" />
<circle cx="511.30" cy="1268.00" r="8.80" fill="#e2e2e2" stroke="#222" stroke-width="1.15"/>
<path d="M511.30,1268.00 L519.49,1269.66 M511.30,1268.00 L516.95,1274.16 M511.30,1268.00 L512.25,1276.31 M511.30,1268.00 L507.19,1275.28 M511.30,1268.00 L503.70,1271.47 M511.30,1268.00 L503.11,1266.34 M511.30,1268.00 L505.65,1261.84 M511.30,1268.00 L510.35,1259.69 M511.30,1268.00 L515.41,1260.72 M511.30,1268.00 L518.90,1264.53 " stroke="#2a2a2a" stroke-width="0.95" fill="none" />
<circle cx="336.90" cy="1243.60" r="6.50" fill="#e2e2e2" stroke="#222" stroke-width="1.15"/>
<path d="M336.90,1243.60 L342.95,1244.83 M336.90,1243.60 L341.08,1248.15 M336.90,1243.60 L337.60,1249.73 M336.90,1243.60 L333.86,1248.98 M336.90,1243.60 L331.28,1246.16 M336.90,1243.60 L330.85,1242.37 M336.90,1243.60 L332.72,1239.05 M336.90,1243.60 L336.20,1237.47 M336.90,1243.60 L339.94,1238.22 M336.90,1243.60 L342.52,1241.04 " stroke="#2a2a2a" stroke-width="0.95" fill="none" />
<circle cx="348.50" cy="1257.70" r="6.50" fill="#e2e2e2" stroke="#222" stroke-width="1.15"/>
<path d="M348.50,1257.70 L354.55,1258.93 M348.50,1257.70 L352.68,1262.25 M348.50,1257.70 L349.20,1263.83 M348.50,1257.70 L345.46,1263.08 M348.50,1257.70 L342.88,1260.26 M348.50,1257.70 L342.45,1256.47 M348.50,1257.70 L344.32,1253.15 M348.50,1257.70 L347.80,1251.57 M348.50,1257.70 L351.54,1252.32 M348.50,1257.70 L354.12,1255.14 " stroke="#2a2a2a" stroke-width="0.95" fill="none" />
<circle cx="332.60" cy="1266.70" r="6.50" fill="#e2e2e2" stroke="#222" stroke-width="1.15"/>
<path d="M332.60,1266.70 L338.65,1267.93 M332.60,1266.70 L336.78,1271.25 M332.60,1266.70 L333.30,1272.83 M332.60,1266.70 L329.56,1272.08 M332.60,1266.70 L326.98,1269.26 M332.60,1266.70 L326.55,1265.47 M332.60,1266.70 L328.42,1262.15 M332.60,1266.70 L331.90,1260.57 M332.60,1266.70 L335.64,1261.32 M332.60,1266.70 L338.22,1264.14 " stroke="#2a2a2a" stroke-width="0.95" fill="none" />
<circle cx="358.20" cy="1270.00" r="6.50" fill="#e2e2e2" stroke="#222" stroke-width="1.15"/>
<path d="M358.20,1270.00 L364.25,1271.23 M358.20,1270.00 L362.38,1274.55 M358.20,1270.00 L358.90,1276.13 M358.20,1270.00 L355.16,1275.38 M358.20,1270.00 L352.58,1272.56 M358.20,1270.00 L352.15,1268.77 M358.20,1270.00 L354.02,1265.45 M358.20,1270.00 L357.50,1263.87 M358.20,1270.00 L361.24,1264.62 M358.20,1270.00 L363.82,1267.44 " stroke="#2a2a2a" stroke-width="0.95" fill="none" />
<path d="M559.87,1271.20 L560.08,1272.59 L560.01,1273.99 L559.34,1275.24 L558.66,1276.44 L558.01,1277.62 L557.40,1278.83 L556.75,1280.07 L555.86,1281.16 L554.59,1281.78 L553.34,1282.35 L552.12,1282.92 L550.91,1283.54 L549.66,1284.17 L548.30,1284.52 L546.90,1284.28 L545.55,1284.00 L544.23,1283.75 L542.89,1283.54 L541.51,1283.31 L540.20,1282.80 L539.21,1281.78 L538.29,1280.77 L537.36,1279.79 L536.40,1278.83 L535.42,1277.83 L534.66,1276.65 L534.46,1275.24 L534.31,1273.88 L534.14,1272.54 L533.93,1271.20 L533.72,1269.81 L533.79,1268.41 L534.46,1267.16 L535.14,1265.96 L535.79,1264.78 L536.40,1263.57 L537.05,1262.33 L537.94,1261.24 L539.21,1260.62 L540.46,1260.05 L541.68,1259.48 L542.89,1258.86 L544.14,1258.23 L545.50,1257.88 L546.90,1258.12 L548.25,1258.40 L549.57,1258.65 L550.91,1258.86 L552.29,1259.09 L553.60,1259.60 L554.59,1260.62 L555.51,1261.63 L556.44,1262.61 L557.40,1263.57 L558.38,1264.57 L559.14,1265.75 L559.34,1267.16 L559.49,1268.52 L559.66,1269.86 L559.87,1271.20 Z" stroke="#333333" stroke-width="1.0" fill="#fff" />
<path d="M546.90,1271.20 Q553.18,1273.02 559.00,1276.14 M552.34,1273.42 L555.48,1277.17 M546.90,1271.20 Q551.90,1275.31 555.42,1280.96 M546.90,1271.20 Q547.49,1277.32 549.73,1283.17 M548.17,1276.59 L547.02,1281.04 M546.90,1271.20 Q545.44,1277.02 543.69,1282.77 M546.90,1271.20 Q542.30,1275.18 537.23,1278.59 M542.55,1274.52 L538.06,1275.28 M546.90,1271.20 Q540.85,1273.33 534.14,1272.56 M546.90,1271.20 Q540.52,1270.04 534.07,1269.25 M541.13,1270.32 L537.23,1267.44 M546.90,1271.20 Q542.80,1266.65 537.67,1263.15 M546.90,1271.20 Q545.37,1265.29 543.14,1259.59 M545.21,1265.97 L545.99,1261.48 M546.90,1271.20 Q549.19,1265.34 550.32,1259.09 M546.90,1271.20 Q551.52,1267.62 556.07,1263.95 M551.03,1267.94 L555.33,1267.14 M546.90,1271.20 Q553.07,1270.94 559.15,1269.57 " stroke="#333333" stroke-width="0.9" fill="none" />
<path d="M366.37,1154.00 L366.82,1155.70 L367.23,1157.47 L366.30,1159.05 L365.46,1160.58 L364.83,1162.12 L364.43,1163.75 L364.20,1165.49 L363.90,1167.28 L362.43,1168.39 L361.07,1169.48 L359.90,1170.66 L358.91,1172.01 L358.03,1173.53 L357.06,1175.07 L355.29,1175.53 L353.61,1176.02 L352.08,1176.66 L350.65,1177.53 L349.25,1178.60 L347.77,1179.65 L345.95,1179.40 L344.22,1179.21 L342.55,1179.22 L340.90,1179.47 L339.20,1179.92 L337.43,1180.33 L335.85,1179.40 L334.32,1178.56 L332.78,1177.93 L331.15,1177.53 L329.41,1177.30 L327.62,1177.00 L326.51,1175.53 L325.42,1174.17 L324.24,1173.00 L322.89,1172.01 L321.37,1171.13 L319.83,1170.16 L319.37,1168.39 L318.88,1166.71 L318.24,1165.18 L317.37,1163.75 L316.30,1162.35 L315.25,1160.87 L315.50,1159.05 L315.69,1157.32 L315.68,1155.65 L315.43,1154.00 L314.98,1152.30 L314.57,1150.53 L315.50,1148.95 L316.34,1147.42 L316.97,1145.88 L317.37,1144.25 L317.60,1142.51 L317.90,1140.72 L319.37,1139.61 L320.73,1138.52 L321.90,1137.34 L322.89,1135.99 L323.77,1134.47 L324.74,1132.93 L326.51,1132.47 L328.19,1131.98 L329.72,1131.34 L331.15,1130.47 L332.55,1129.40 L334.03,1128.35 L335.85,1128.60 L337.58,1128.79 L339.25,1128.78 L340.90,1128.53 L342.60,1128.08 L344.37,1127.67 L345.95,1128.60 L347.48,1129.44 L349.02,1130.07 L350.65,1130.47 L352.39,1130.70 L354.18,1131.00 L355.29,1132.47 L356.38,1133.83 L357.56,1135.00 L358.91,1135.99 L360.43,1136.87 L361.97,1137.84 L362.43,1139.61 L362.92,1141.29 L363.56,1142.82 L364.43,1144.25 L365.50,1145.65 L366.55,1147.13 L366.30,1148.95 L366.11,1150.68 L366.12,1152.35 L366.37,1154.00 Z" stroke="#333333" stroke-width="1.0" fill="#fff" />
<path d="M340.90,1154.00 Q353.06,1157.87 365.46,1160.97 M351.95,1157.14 L358.86,1163.73 M340.90,1154.00 Q348.18,1163.25 357.44,1170.76 M340.90,1154.00 Q344.30,1165.25 347.88,1176.45 M344.04,1164.10 L342.43,1172.75 M340.90,1154.00 Q339.58,1165.38 337.52,1176.66 M340.90,1154.00 Q333.05,1163.79 325.93,1174.13 M334.16,1163.06 L325.70,1167.10 M340.90,1154.00 Q329.42,1159.74 317.86,1165.32 M340.90,1154.00 Q329.56,1156.97 317.46,1154.33 M330.35,1154.15 L322.54,1150.17 M340.90,1154.00 Q331.02,1147.14 318.52,1145.21 M340.90,1154.00 Q332.14,1146.00 321.68,1140.09 M332.25,1147.74 L328.32,1139.79 M340.90,1154.00 Q338.32,1141.63 332.41,1130.19 M340.90,1154.00 Q340.43,1141.70 342.07,1129.42 M341.43,1142.94 L346.11,1135.01 M340.90,1154.00 Q345.22,1142.66 350.10,1131.54 M340.90,1154.00 Q350.94,1147.33 362.14,1142.58 M350.46,1148.86 L359.47,1148.79 M340.90,1154.00 Q353.33,1151.62 365.15,1146.73 " stroke="#333333" stroke-width="0.9" fill="none" />
<path d="M516.43,1097.40 L516.43,1098.52 L516.50,1099.67 L516.57,1100.87 L516.03,1101.92 L515.34,1102.88 L514.71,1103.81 L514.15,1104.79 L513.64,1105.82 L513.09,1106.89 L512.10,1107.53 L511.03,1108.01 L510.01,1108.51 L509.04,1109.07 L508.08,1109.71 L507.07,1110.37 L505.90,1110.43 L504.73,1110.31 L503.60,1110.23 L502.48,1110.23 L501.33,1110.30 L500.13,1110.37 L499.08,1109.83 L498.12,1109.14 L497.19,1108.51 L496.21,1107.95 L495.18,1107.44 L494.11,1106.89 L493.47,1105.90 L492.99,1104.83 L492.49,1103.81 L491.93,1102.84 L491.29,1101.88 L490.63,1100.87 L490.57,1099.70 L490.69,1098.53 L490.77,1097.40 L490.77,1096.28 L490.70,1095.13 L490.63,1093.93 L491.17,1092.88 L491.86,1091.92 L492.49,1090.99 L493.05,1090.01 L493.56,1088.98 L494.11,1087.91 L495.10,1087.27 L496.17,1086.79 L497.19,1086.29 L498.16,1085.73 L499.12,1085.09 L500.13,1084.43 L501.30,1084.37 L502.47,1084.49 L503.60,1084.57 L504.72,1084.57 L505.87,1084.50 L507.07,1084.43 L508.12,1084.97 L509.08,1085.66 L510.01,1086.29 L510.99,1086.85 L512.02,1087.36 L513.09,1087.91 L513.73,1088.90 L514.21,1089.97 L514.71,1090.99 L515.27,1091.96 L515.91,1092.92 L516.57,1093.93 L516.63,1095.10 L516.51,1096.27 L516.43,1097.40 Z" stroke="#333333" stroke-width="1.0" fill="#fff" />
<path d="M503.60,1097.40 Q509.52,1098.16 515.28,1099.86 M508.86,1098.51 L512.29,1101.36 M503.60,1097.40 Q506.62,1102.50 510.37,1107.13 M503.60,1097.40 Q504.71,1103.23 505.39,1109.13 M504.41,1102.68 L502.95,1106.87 M503.60,1097.40 Q501.36,1102.88 501.49,1109.04 M503.60,1097.40 Q497.63,1099.99 493.00,1104.96 M498.83,1100.80 L494.00,1101.45 M503.60,1097.40 Q497.90,1098.57 492.42,1100.65 M503.60,1097.40 Q498.59,1094.33 492.56,1093.38 M498.63,1095.59 L495.68,1092.34 M503.60,1097.40 Q500.32,1092.50 495.53,1088.80 M503.60,1097.40 Q501.35,1091.65 500.93,1085.35 M502.40,1091.98 L503.62,1087.53 M503.60,1097.40 Q505.05,1091.21 508.11,1085.51 M503.60,1097.40 Q506.92,1091.77 511.87,1087.28 M507.32,1092.85 L511.82,1090.94 M503.60,1097.40 Q509.61,1094.89 516.27,1094.41 " stroke="#333333" stroke-width="0.9" fill="none" />
<rect x="606.5" y="1263.8" width="116.9" height="13.2" fill="none" stroke="#333333" stroke-width="1"/>
<circle cx="613.60" cy="1270.80" r="6.40" fill="#e2e2e2" stroke="#222" stroke-width="1.15"/>
<path d="M613.60,1270.80 L619.56,1272.01 M613.60,1270.80 L617.71,1275.28 M613.60,1270.80 L614.29,1276.84 M613.60,1270.80 L610.61,1276.09 M613.60,1270.80 L608.07,1273.33 M613.60,1270.80 L607.64,1269.59 M613.60,1270.80 L609.49,1266.32 M613.60,1270.80 L612.91,1264.76 M613.60,1270.80 L616.59,1265.51 M613.60,1270.80 L619.13,1268.27 " stroke="#2a2a2a" stroke-width="0.95" fill="none" />
<circle cx="631.10" cy="1270.80" r="6.40" fill="#e2e2e2" stroke="#222" stroke-width="1.15"/>
<path d="M631.10,1270.80 L637.06,1272.01 M631.10,1270.80 L635.21,1275.28 M631.10,1270.80 L631.79,1276.84 M631.10,1270.80 L628.11,1276.09 M631.10,1270.80 L625.57,1273.33 M631.10,1270.80 L625.14,1269.59 M631.10,1270.80 L626.99,1266.32 M631.10,1270.80 L630.41,1264.76 M631.10,1270.80 L634.09,1265.51 M631.10,1270.80 L636.63,1268.27 " stroke="#2a2a2a" stroke-width="0.95" fill="none" />
<circle cx="648.40" cy="1270.80" r="6.40" fill="#e2e2e2" stroke="#222" stroke-width="1.15"/>
<path d="M648.40,1270.80 L654.36,1272.01 M648.40,1270.80 L652.51,1275.28 M648.40,1270.80 L649.09,1276.84 M648.40,1270.80 L645.41,1276.09 M648.40,1270.80 L642.87,1273.33 M648.40,1270.80 L642.44,1269.59 M648.40,1270.80 L644.29,1266.32 M648.40,1270.80 L647.71,1264.76 M648.40,1270.80 L651.39,1265.51 M648.40,1270.80 L653.93,1268.27 " stroke="#2a2a2a" stroke-width="0.95" fill="none" />
<circle cx="665.90" cy="1270.80" r="6.40" fill="#e2e2e2" stroke="#222" stroke-width="1.15"/>
<path d="M665.90,1270.80 L671.86,1272.01 M665.90,1270.80 L670.01,1275.28 M665.90,1270.80 L666.59,1276.84 M665.90,1270.80 L662.91,1276.09 M665.90,1270.80 L660.37,1273.33 M665.90,1270.80 L659.94,1269.59 M665.90,1270.80 L661.79,1266.32 M665.90,1270.80 L665.21,1264.76 M665.90,1270.80 L668.89,1265.51 M665.90,1270.80 L671.43,1268.27 " stroke="#2a2a2a" stroke-width="0.95" fill="none" />
<circle cx="682.90" cy="1270.80" r="6.40" fill="#e2e2e2" stroke="#222" stroke-width="1.15"/>
<path d="M682.90,1270.80 L688.86,1272.01 M682.90,1270.80 L687.01,1275.28 M682.90,1270.80 L683.59,1276.84 M682.90,1270.80 L679.91,1276.09 M682.90,1270.80 L677.37,1273.33 M682.90,1270.80 L676.94,1269.59 M682.90,1270.80 L678.79,1266.32 M682.90,1270.80 L682.21,1264.76 M682.90,1270.80 L685.89,1265.51 M682.90,1270.80 L688.43,1268.27 " stroke="#2a2a2a" stroke-width="0.95" fill="none" />
<circle cx="700.40" cy="1270.80" r="6.40" fill="#e2e2e2" stroke="#222" stroke-width="1.15"/>
<path d="M700.40,1270.80 L706.36,1272.01 M700.40,1270.80 L704.51,1275.28 M700.40,1270.80 L701.09,1276.84 M700.40,1270.80 L697.41,1276.09 M700.40,1270.80 L694.87,1273.33 M700.40,1270.80 L694.44,1269.59 M700.40,1270.80 L696.29,1266.32 M700.40,1270.80 L699.71,1264.76 M700.40,1270.80 L703.39,1265.51 M700.40,1270.80 L705.93,1268.27 " stroke="#2a2a2a" stroke-width="0.95" fill="none" />
<circle cx="718.30" cy="1270.80" r="6.40" fill="#e2e2e2" stroke="#222" stroke-width="1.15"/>
<path d="M718.30,1270.80 L724.26,1272.01 M718.30,1270.80 L722.41,1275.28 M718.30,1270.80 L718.99,1276.84 M718.30,1270.80 L715.31,1276.09 M718.30,1270.80 L712.77,1273.33 M718.30,1270.80 L712.34,1269.59 M718.30,1270.80 L714.19,1266.32 M718.30,1270.80 L717.61,1264.76 M718.30,1270.80 L721.29,1265.51 M718.30,1270.80 L723.83,1268.27 " stroke="#2a2a2a" stroke-width="0.95" fill="none" />
<rect x="818.8" y="924.2" width="18.7" height="18" fill="none" stroke="#333333" stroke-width="1"/>
<circle cx="827.50" cy="932.50" r="8.00" fill="#e2e2e2" stroke="#222" stroke-width="1.15"/>
<path d="M827.50,932.50 L834.95,934.01 M827.50,932.50 L832.64,938.10 M827.50,932.50 L828.37,940.05 M827.50,932.50 L823.76,939.12 M827.50,932.50 L820.59,935.66 M827.50,932.50 L820.05,930.99 M827.50,932.50 L822.36,926.90 M827.50,932.50 L826.63,924.95 M827.50,932.50 L831.24,925.88 M827.50,932.50 L834.41,929.34 " stroke="#2a2a2a" stroke-width="0.95" fill="none" />
<path d="M831.50,942.20 A12.70,19.10 0 0 1 818.80,961.30" stroke="#333333" stroke-width="1.2" fill="none" />
<line x1="842.80" y1="924.20" x2="842.80" y2="942.20" stroke="#333333" stroke-width="1.8" stroke-linecap="butt"/>
<path d="M842.80,942.20 A18.10,18.00 0 0 0 860.90,924.20" stroke="#333333" stroke-width="1.2" fill="none" />
<line x1="873.20" y1="924.20" x2="873.20" y2="1057.30" stroke="#333333" stroke-width="1.0" stroke-linecap="butt"/>
<line x1="873.20" y1="938.70" x2="975.50" y2="938.70" stroke="#333333" stroke-width="1.0" stroke-linecap="butt"/>
<line x1="862.50" y1="1057.30" x2="975.50" y2="1057.30" stroke="#333333" stroke-width="1.0" stroke-linecap="butt"/>
<line x1="975.50" y1="924.20" x2="975.50" y2="1075.00" stroke="#333333" stroke-width="1.0" stroke-linecap="butt"/>
<path d="M873.2,938.7 C866,948 863,955 864,961" stroke="#333333" stroke-width="1.0" fill="none" />
<line x1="862.50" y1="961.00" x2="862.50" y2="1076.80" stroke="#333333" stroke-width="1.0" stroke-linecap="butt"/>
<circle cx="887.10" cy="931.50" r="6.30" fill="#e2e2e2" stroke="#222" stroke-width="1.15"/>
<path d="M887.10,931.50 L892.97,932.69 M887.10,931.50 L891.15,935.91 M887.10,931.50 L887.78,937.45 M887.10,931.50 L884.16,936.71 M887.10,931.50 L881.66,933.99 M887.10,931.50 L881.23,930.31 M887.10,931.50 L883.05,927.09 M887.10,931.50 L886.42,925.55 M887.10,931.50 L890.04,926.29 M887.10,931.50 L892.54,929.01 " stroke="#2a2a2a" stroke-width="0.95" fill="none" />
<circle cx="906.20" cy="931.50" r="6.30" fill="#e2e2e2" stroke="#222" stroke-width="1.15"/>
<path d="M906.20,931.50 L912.07,932.69 M906.20,931.50 L910.25,935.91 M906.20,931.50 L906.88,937.45 M906.20,931.50 L903.26,936.71 M906.20,931.50 L900.76,933.99 M906.20,931.50 L900.33,930.31 M906.20,931.50 L902.15,927.09 M906.20,931.50 L905.52,925.55 M906.20,931.50 L909.14,926.29 M906.20,931.50 L911.64,929.01 " stroke="#2a2a2a" stroke-width="0.95" fill="none" />
<circle cx="925.30" cy="931.50" r="6.30" fill="#e2e2e2" stroke="#222" stroke-width="1.15"/>
<path d="M925.30,931.50 L931.17,932.69 M925.30,931.50 L929.35,935.91 M925.30,931.50 L925.98,937.45 M925.30,931.50 L922.36,936.71 M925.30,931.50 L919.86,933.99 M925.30,931.50 L919.43,930.31 M925.30,931.50 L921.25,927.09 M925.30,931.50 L924.62,925.55 M925.30,931.50 L928.24,926.29 M925.30,931.50 L930.74,929.01 " stroke="#2a2a2a" stroke-width="0.95" fill="none" />
<circle cx="944.40" cy="931.50" r="6.30" fill="#e2e2e2" stroke="#222" stroke-width="1.15"/>
<path d="M944.40,931.50 L950.27,932.69 M944.40,931.50 L948.45,935.91 M944.40,931.50 L945.08,937.45 M944.40,931.50 L941.46,936.71 M944.40,931.50 L938.96,933.99 M944.40,931.50 L938.53,930.31 M944.40,931.50 L940.35,927.09 M944.40,931.50 L943.72,925.55 M944.40,931.50 L947.34,926.29 M944.40,931.50 L949.84,929.01 " stroke="#2a2a2a" stroke-width="0.95" fill="none" />
<circle cx="964.20" cy="931.50" r="6.30" fill="#e2e2e2" stroke="#222" stroke-width="1.15"/>
<path d="M964.20,931.50 L970.07,932.69 M964.20,931.50 L968.25,935.91 M964.20,931.50 L964.88,937.45 M964.20,931.50 L961.26,936.71 M964.20,931.50 L958.76,933.99 M964.20,931.50 L958.33,930.31 M964.20,931.50 L960.15,927.09 M964.20,931.50 L963.52,925.55 M964.20,931.50 L967.14,926.29 M964.20,931.50 L969.64,929.01 " stroke="#2a2a2a" stroke-width="0.95" fill="none" />
<circle cx="867.30" cy="966.60" r="6.30" fill="#e2e2e2" stroke="#222" stroke-width="1.15"/>
<path d="M867.30,966.60 L873.17,967.79 M867.30,966.60 L871.35,971.01 M867.30,966.60 L867.98,972.55 M867.30,966.60 L864.36,971.81 M867.30,966.60 L861.86,969.09 M867.30,966.60 L861.43,965.41 M867.30,966.60 L863.25,962.19 M867.30,966.60 L866.62,960.65 M867.30,966.60 L870.24,961.39 M867.30,966.60 L872.74,964.11 " stroke="#2a2a2a" stroke-width="0.95" fill="none" />
<circle cx="867.30" cy="986.20" r="6.30" fill="#e2e2e2" stroke="#222" stroke-width="1.15"/>
<path d="M867.30,986.20 L873.17,987.39 M867.30,986.20 L871.35,990.61 M867.30,986.20 L867.98,992.15 M867.30,986.20 L864.36,991.41 M867.30,986.20 L861.86,988.69 M867.30,986.20 L861.43,985.01 M867.30,986.20 L863.25,981.79 M867.30,986.20 L866.62,980.25 M867.30,986.20 L870.24,980.99 M867.30,986.20 L872.74,983.71 " stroke="#2a2a2a" stroke-width="0.95" fill="none" />
<circle cx="867.30" cy="1006.00" r="6.30" fill="#e2e2e2" stroke="#222" stroke-width="1.15"/>
<path d="M867.30,1006.00 L873.17,1007.19 M867.30,1006.00 L871.35,1010.41 M867.30,1006.00 L867.98,1011.95 M867.30,1006.00 L864.36,1011.21 M867.30,1006.00 L861.86,1008.49 M867.30,1006.00 L861.43,1004.81 M867.30,1006.00 L863.25,1001.59 M867.30,1006.00 L866.62,1000.05 M867.30,1006.00 L870.24,1000.79 M867.30,1006.00 L872.74,1003.51 " stroke="#2a2a2a" stroke-width="0.95" fill="none" />
<circle cx="867.30" cy="1025.60" r="6.30" fill="#e2e2e2" stroke="#222" stroke-width="1.15"/>
<path d="M867.30,1025.60 L873.17,1026.79 M867.30,1025.60 L871.35,1030.01 M867.30,1025.60 L867.98,1031.55 M867.30,1025.60 L864.36,1030.81 M867.30,1025.60 L861.86,1028.09 M867.30,1025.60 L861.43,1024.41 M867.30,1025.60 L863.25,1021.19 M867.30,1025.60 L866.62,1019.65 M867.30,1025.60 L870.24,1020.39 M867.30,1025.60 L872.74,1023.11 " stroke="#2a2a2a" stroke-width="0.95" fill="none" />
<circle cx="867.30" cy="1045.40" r="6.30" fill="#e2e2e2" stroke="#222" stroke-width="1.15"/>
<path d="M867.30,1045.40 L873.17,1046.59 M867.30,1045.40 L871.35,1049.81 M867.30,1045.40 L867.98,1051.35 M867.30,1045.40 L864.36,1050.61 M867.30,1045.40 L861.86,1047.89 M867.30,1045.40 L861.43,1044.21 M867.30,1045.40 L863.25,1040.99 M867.30,1045.40 L866.62,1039.45 M867.30,1045.40 L870.24,1040.19 M867.30,1045.40 L872.74,1042.91 " stroke="#2a2a2a" stroke-width="0.95" fill="none" />
<circle cx="880.90" cy="1052.00" r="6.30" fill="#e2e2e2" stroke="#222" stroke-width="1.15"/>
<path d="M880.90,1052.00 L886.77,1053.19 M880.90,1052.00 L884.95,1056.41 M880.90,1052.00 L881.58,1057.95 M880.90,1052.00 L877.96,1057.21 M880.90,1052.00 L875.46,1054.49 M880.90,1052.00 L875.03,1050.81 M880.90,1052.00 L876.85,1047.59 M880.90,1052.00 L880.22,1046.05 M880.90,1052.00 L883.84,1046.79 M880.90,1052.00 L886.34,1049.51 " stroke="#2a2a2a" stroke-width="0.95" fill="none" />
<path d="M847.7,1076.8 H905 V1233.8" stroke="#555" stroke-width="1.0" fill="none" stroke-dasharray="7,7"/>
<path d="M840.8,1233.8 H905" stroke="#555" stroke-width="1.0" fill="none" stroke-dasharray="5,7.5"/>
<line x1="905.00" y1="1076.80" x2="972.40" y2="1076.80" stroke="#333333" stroke-width="1.0" stroke-linecap="butt"/>
<text transform="translate(844.74,1160.30) scale(0.9636,1)" font-size="23.55" fill="#262626" stroke="#fff" stroke-width="0.342">Patio</text>
<rect x="974.8" y="1077.2" width="80.1" height="199.5" fill="none" stroke="#1e1e1e" stroke-width="4.8"/>
<text transform="translate(1014.90,997.50) rotate(-90)" x="-37.16" y="7.57" font-size="22.00" fill="#262626">Carport</text>
<text transform="translate(1014.30,1174.60) rotate(-90)" x="-36.42" y="7.50" font-size="21.80" fill="#262626">Garage</text>
<path d="M952.8,1076.8 L964.7,1107.7 V1188.9 H972.4" stroke="#333333" stroke-width="1.0" fill="none" />
<circle cx="966.60" cy="1114.40" r="6.30" fill="#e2e2e2" stroke="#222" stroke-width="1.15"/>
<path d="M966.60,1114.40 L972.47,1115.59 M966.60,1114.40 L970.65,1118.81 M966.60,1114.40 L967.28,1120.35 M966.60,1114.40 L963.66,1119.61 M966.60,1114.40 L961.16,1116.89 M966.60,1114.40 L960.73,1113.21 M966.60,1114.40 L962.55,1109.99 M966.60,1114.40 L965.92,1108.45 M966.60,1114.40 L969.54,1109.19 M966.60,1114.40 L972.04,1111.91 " stroke="#2a2a2a" stroke-width="0.95" fill="none" />
<circle cx="966.60" cy="1132.80" r="6.30" fill="#e2e2e2" stroke="#222" stroke-width="1.15"/>
<path d="M966.60,1132.80 L972.47,1133.99 M966.60,1132.80 L970.65,1137.21 M966.60,1132.80 L967.28,1138.75 M966.60,1132.80 L963.66,1138.01 M966.60,1132.80 L961.16,1135.29 M966.60,1132.80 L960.73,1131.61 M966.60,1132.80 L962.55,1128.39 M966.60,1132.80 L965.92,1126.85 M966.60,1132.80 L969.54,1127.59 M966.60,1132.80 L972.04,1130.31 " stroke="#2a2a2a" stroke-width="0.95" fill="none" />
<circle cx="966.60" cy="1151.20" r="6.30" fill="#e2e2e2" stroke="#222" stroke-width="1.15"/>
<path d="M966.60,1151.20 L972.47,1152.39 M966.60,1151.20 L970.65,1155.61 M966.60,1151.20 L967.28,1157.15 M966.60,1151.20 L963.66,1156.41 M966.60,1151.20 L961.16,1153.69 M966.60,1151.20 L960.73,1150.01 M966.60,1151.20 L962.55,1146.79 M966.60,1151.20 L965.92,1145.25 M966.60,1151.20 L969.54,1145.99 M966.60,1151.20 L972.04,1148.71 " stroke="#2a2a2a" stroke-width="0.95" fill="none" />
<circle cx="966.60" cy="1169.80" r="6.30" fill="#e2e2e2" stroke="#222" stroke-width="1.15"/>
<path d="M966.60,1169.80 L972.47,1170.99 M966.60,1169.80 L970.65,1174.21 M966.60,1169.80 L967.28,1175.75 M966.60,1169.80 L963.66,1175.01 M966.60,1169.80 L961.16,1172.29 M966.60,1169.80 L960.73,1168.61 M966.60,1169.80 L962.55,1165.39 M966.60,1169.80 L965.92,1163.85 M966.60,1169.80 L969.54,1164.59 M966.60,1169.80 L972.04,1167.31 " stroke="#2a2a2a" stroke-width="0.95" fill="none" />
<circle cx="963.70" cy="1088.10" r="9.00" fill="#e2e2e2" stroke="#222" stroke-width="1.15"/>
<path d="M963.70,1088.10 L972.08,1089.80 M963.70,1088.10 L969.48,1094.40 M963.70,1088.10 L964.67,1096.59 M963.70,1088.10 L959.50,1095.54 M963.70,1088.10 L955.92,1091.65 M963.70,1088.10 L955.32,1086.40 M963.70,1088.10 L957.92,1081.80 M963.70,1088.10 L962.73,1079.61 M963.70,1088.10 L967.90,1080.66 M963.70,1088.10 L971.48,1084.55 " stroke="#2a2a2a" stroke-width="0.95" fill="none" />
<line x1="838.20" y1="1235.00" x2="838.20" y2="1277.00" stroke="#333333" stroke-width="1.0" stroke-linecap="butt"/>
<line x1="838.20" y1="1264.10" x2="972.40" y2="1264.10" stroke="#333333" stroke-width="1.0" stroke-linecap="butt"/>
<circle cx="850.10" cy="1270.10" r="6.30" fill="#e2e2e2" stroke="#222" stroke-width="1.15"/>
<path d="M850.10,1270.10 L855.97,1271.29 M850.10,1270.10 L854.15,1274.51 M850.10,1270.10 L850.78,1276.05 M850.10,1270.10 L847.16,1275.31 M850.10,1270.10 L844.66,1272.59 M850.10,1270.10 L844.23,1268.91 M850.10,1270.10 L846.05,1265.69 M850.10,1270.10 L849.42,1264.15 M850.10,1270.10 L853.04,1264.89 M850.10,1270.10 L855.54,1267.61 " stroke="#2a2a2a" stroke-width="0.95" fill="none" />
<circle cx="872.80" cy="1270.10" r="6.30" fill="#e2e2e2" stroke="#222" stroke-width="1.15"/>
<path d="M872.80,1270.10 L878.67,1271.29 M872.80,1270.10 L876.85,1274.51 M872.80,1270.10 L873.48,1276.05 M872.80,1270.10 L869.86,1275.31 M872.80,1270.10 L867.36,1272.59 M872.80,1270.10 L866.93,1268.91 M872.80,1270.10 L868.75,1265.69 M872.80,1270.10 L872.12,1264.15 M872.80,1270.10 L875.74,1264.89 M872.80,1270.10 L878.24,1267.61 " stroke="#2a2a2a" stroke-width="0.95" fill="none" />
<circle cx="896.00" cy="1270.10" r="6.30" fill="#e2e2e2" stroke="#222" stroke-width="1.15"/>
<path d="M896.00,1270.10 L901.87,1271.29 M896.00,1270.10 L900.05,1274.51 M896.00,1270.10 L896.68,1276.05 M896.00,1270.10 L893.06,1275.31 M896.00,1270.10 L890.56,1272.59 M896.00,1270.10 L890.13,1268.91 M896.00,1270.10 L891.95,1265.69 M896.00,1270.10 L895.32,1264.15 M896.00,1270.10 L898.94,1264.89 M896.00,1270.10 L901.44,1267.61 " stroke="#2a2a2a" stroke-width="0.95" fill="none" />
<circle cx="918.60" cy="1270.10" r="6.30" fill="#e2e2e2" stroke="#222" stroke-width="1.15"/>
<path d="M918.60,1270.10 L924.47,1271.29 M918.60,1270.10 L922.65,1274.51 M918.60,1270.10 L919.28,1276.05 M918.60,1270.10 L915.66,1275.31 M918.60,1270.10 L913.16,1272.59 M918.60,1270.10 L912.73,1268.91 M918.60,1270.10 L914.55,1265.69 M918.60,1270.10 L917.92,1264.15 M918.60,1270.10 L921.54,1264.89 M918.60,1270.10 L924.04,1267.61 " stroke="#2a2a2a" stroke-width="0.95" fill="none" />
<path d="M967.64,1261.70 L967.90,1263.06 L967.99,1264.47 L967.31,1265.72 L966.65,1266.92 L966.08,1268.12 L965.59,1269.37 L965.13,1270.68 L964.51,1271.94 L963.29,1272.69 L962.12,1273.40 L961.02,1274.15 L959.97,1274.99 L958.92,1275.89 L957.75,1276.67 L956.32,1276.71 L954.95,1276.74 L953.63,1276.84 L952.30,1277.04 L950.94,1277.30 L949.53,1277.39 L948.28,1276.71 L947.08,1276.05 L945.88,1275.48 L944.63,1274.99 L943.32,1274.53 L942.06,1273.91 L941.31,1272.69 L940.60,1271.52 L939.85,1270.42 L939.01,1269.37 L938.11,1268.32 L937.33,1267.15 L937.29,1265.72 L937.26,1264.35 L937.16,1263.03 L936.96,1261.70 L936.70,1260.34 L936.61,1258.93 L937.29,1257.68 L937.95,1256.48 L938.52,1255.28 L939.01,1254.03 L939.47,1252.72 L940.09,1251.46 L941.31,1250.71 L942.48,1250.00 L943.58,1249.25 L944.63,1248.41 L945.68,1247.51 L946.85,1246.73 L948.28,1246.69 L949.65,1246.66 L950.97,1246.56 L952.30,1246.36 L953.66,1246.10 L955.07,1246.01 L956.32,1246.69 L957.52,1247.35 L958.72,1247.92 L959.97,1248.41 L961.28,1248.87 L962.54,1249.49 L963.29,1250.71 L964.00,1251.88 L964.75,1252.98 L965.59,1254.03 L966.49,1255.08 L967.27,1256.25 L967.31,1257.68 L967.34,1259.05 L967.44,1260.37 L967.64,1261.70 Z" stroke="#333333" stroke-width="1.0" fill="#fff" />
<path d="M952.30,1261.70 Q958.60,1264.73 965.36,1266.72 M958.18,1263.96 L961.62,1267.90 M952.30,1261.70 Q958.14,1265.85 963.37,1270.79 M952.30,1261.70 Q955.44,1268.73 957.91,1276.05 M954.83,1268.16 L954.18,1273.88 M952.30,1261.70 Q951.47,1268.92 947.56,1275.44 M952.30,1261.70 Q946.20,1266.29 942.68,1273.56 M947.97,1267.04 L942.72,1269.28 M952.30,1261.70 Q945.49,1264.81 937.69,1264.93 M952.30,1261.70 Q945.60,1259.46 939.51,1255.69 M946.55,1258.99 L943.37,1254.77 M952.30,1261.70 Q948.42,1255.08 941.58,1250.71 M952.30,1261.70 Q950.46,1254.43 950.26,1246.84 M951.38,1255.01 L953.30,1249.74 M952.30,1261.70 Q954.68,1255.16 954.77,1248.01 M952.30,1261.70 Q958.37,1258.04 962.71,1252.08 M956.98,1257.37 L962.10,1256.00 M952.30,1261.70 Q959.04,1259.44 966.14,1258.42 " stroke="#333333" stroke-width="0.9" fill="none" />
<text transform="translate(818.15,1251.00) scale(0.9927,1)" font-size="12.43" fill="#262626" stroke="#fff" stroke-width="0.181">Up</text>
<line x1="833.40" y1="1247.40" x2="845.00" y2="1247.40" stroke="#333333" stroke-width="0.9" stroke-linecap="butt"/>
<polygon points="842,1245.4 846.5,1247.4 842,1249.4" fill="#333333"/>
<circle cx="1011.6" cy="1408.9" r="28.7" fill="none" stroke="#555" stroke-width="1.3"/>
<line x1="988.20" y1="1424.40" x2="1035.40" y2="1393.30" stroke="#555" stroke-width="1.3" stroke-linecap="butt"/>
<line x1="996.20" y1="1385.00" x2="1027.10" y2="1432.70" stroke="#555" stroke-width="1.3" stroke-linecap="butt"/>
<line x1="1011.60" y1="1408.90" x2="1035.40" y2="1393.30" stroke="#1a1a1a" stroke-width="3.0" stroke-linecap="butt"/>
<text transform="translate(977.41,1380.90) scale(0.8783,1)" font-size="23.11" fill="#1a1a1a" stroke="#fff" stroke-width="0.000">W</text>
<text transform="translate(1039.38,1393.80) scale(0.9728,1)" font-size="22.82" fill="#1a1a1a" stroke="#fff" stroke-width="0.000">N</text>
<text transform="translate(970.55,1439.30) scale(0.8963,1)" font-size="23.26" fill="#1a1a1a" stroke="#fff" stroke-width="0.000">S</text>
<text transform="translate(1026.33,1453.30) scale(0.9341,1)" font-size="23.11" fill="#1a1a1a" stroke="#fff" stroke-width="0.000">E</text>
</svg></body></html>
